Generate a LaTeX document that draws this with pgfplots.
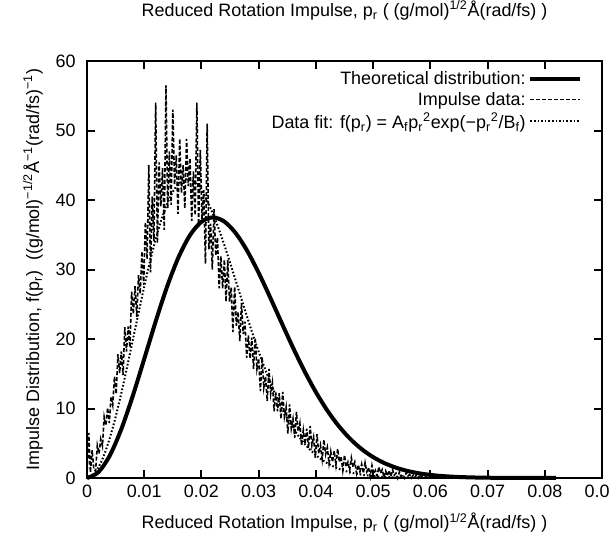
\documentclass[border=0pt]{standalone}
\usepackage{fontspec}
\setmainfont{Liberation Sans}
\usepackage{pgfplots}
\usepackage{pgfplotstable}
\pgfplotsset{compat=1.18}

\pgfplotstableread{
p v
0.0000 0.2
0.0003 6.5
0.0006 0.8
0.0009 4.0
0.0012 1.2
0.0015 1.0
0.0018 4.7
0.0021 3.5
0.0024 5.6
0.0027 4.6
0.0030 8.8
0.0033 7.6
0.0036 10.1
0.0039 7.9
0.0042 11.7
0.0045 10.5
0.0048 14.6
0.0051 12.1
0.0054 17.8
0.0057 15.1
0.0060 18.2
0.0063 14.8
0.0066 21.7
0.0069 18.2
0.0072 21.8
0.0075 18.8
0.0078 26.8
0.0081 23.6
0.0084 27.6
0.0087 23.2
0.0090 29.2
0.0093 26.5
0.0096 32.6
0.0099 27.8
0.0102 36.8
0.0105 31.5
0.0108 45.0
0.0111 29.6
0.0114 40.5
0.0117 34.1
0.0120 54.0
0.0123 33.8
0.0126 45.4
0.0129 39.1
0.0132 44.6
0.0135 35.7
0.0138 56.5
0.0141 38.8
0.0144 47.0
0.0147 39.3
0.0150 53.0
0.0153 42.2
0.0156 46.4
0.0159 38.0
0.0162 48.8
0.0165 41.0
0.0168 45.0
0.0171 38.8
0.0174 48.8
0.0177 42.0
0.0180 46.0
0.0183 37.0
0.0186 44.1
0.0189 37.8
0.0192 54.0
0.0195 36.1
0.0198 47.2
0.0201 37.3
0.0204 41.4
0.0207 30.8
0.0210 51.0
0.0213 32.9
0.0216 36.6
0.0219 30.0
0.0222 38.7
0.0225 32.0
0.0228 34.6
0.0231 27.3
0.0234 31.9
0.0237 27.3
0.0240 31.4
0.0243 25.4
0.0246 31.4
0.0249 25.4
0.0252 27.4
0.0255 21.0
0.0258 27.5
0.0261 21.9
0.0264 23.9
0.0267 19.7
0.0270 25.2
0.0273 20.7
0.0276 22.5
0.0279 17.3
0.0282 20.5
0.0285 17.2
0.0288 20.2
0.0291 15.7
0.0294 20.2
0.0297 15.7
0.0300 17.2
0.0303 12.5
0.0306 17.4
0.0309 13.0
0.0312 14.6
0.0315 11.1
0.0318 15.7
0.0321 12.1
0.0324 13.7
0.0327 9.6
0.0330 12.3
0.0333 9.6
0.0336 12.2
0.0339 8.5
0.0342 12.4
0.0345 8.8
0.0348 10.2
0.0351 6.4
0.0354 10.6
0.0357 7.1
0.0360 8.5
0.0363 5.8
0.0366 9.5
0.0369 6.7
0.0372 7.9
0.0375 4.7
0.0378 6.9
0.0381 4.9
0.0384 7.1
0.0387 4.3
0.0390 7.5
0.0393 4.7
0.0396 5.9
0.0399 2.9
0.0402 6.3
0.0405 3.5
0.0408 4.7
0.0411 2.7
0.0414 5.5
0.0417 3.4
0.0420 4.4
0.0423 2.1
0.0426 3.8
0.0429 2.3
0.0432 3.9
0.0435 1.9
0.0438 4.2
0.0441 2.3
0.0444 3.1
0.0447 1.1
0.0450 3.3
0.0453 1.6
0.0456 2.3
0.0459 1.1
0.0462 2.9
0.0465 1.6
0.0468 2.3
0.0471 0.7
0.0474 1.9
0.0477 0.9
0.0480 2.0
0.0483 0.7
0.0486 2.2
0.0489 0.9
0.0492 1.5
0.0495 0.2
0.0498 1.8
0.0501 0.6
0.0504 1.1
0.0507 0.3
0.0510 1.6
0.0513 0.7
0.0516 1.2
0.0519 0.1
0.0522 1.0
0.0525 0.3
0.0528 1.1
0.0531 0.2
0.0534 1.2
0.0537 0.4
0.0540 0.7
0.0543 0.0
0.0546 0.9
0.0549 0.2
0.0552 0.5
0.0555 0.0
0.0558 0.8
0.0561 0.3
0.0564 0.5
0.0567 0.0
0.0570 0.4
0.0573 0.1
0.0576 0.5
0.0579 0.0
0.0582 0.5
0.0585 0.1
0.0588 0.3
0.0591 0.0
0.0594 0.3
0.0597 0.1
0.0600 0.1
}\impulsedata

\pgfplotstableread{
p v
0.000 0
0.002 0.836
0.004 3.260
0.006 7.039
0.008 11.81
0.010 17.13
0.012 22.52
0.014 27.54
0.016 31.77
0.018 34.94
0.020 36.86
0.022 37.50
0.024 36.90
0.026 35.22
0.028 32.68
0.030 29.52
0.032 26.00
0.034 22.35
0.036 18.76
0.038 15.39
0.040 12.36
0.042 9.705
0.044 7.468
0.046 5.628
0.048 4.156
0.050 3.008
0.052 2.135
0.054 1.486
0.056 1.014
0.058 0.679
0.060 0.446
0.062 0.288
0.064 0.182
0.066 0.113
0.068 0.069
0.070 0.041
0.072 0.024
0.074 0.013
0.076 0.007
0.078 0.004
0.080 0.002
0.082 0.001
}\theory

\pgfplotstableread{
p v
0.000 0
0.001 0.380
0.002 1.507
0.003 3.336
0.004 5.796
0.005 8.794
0.006 12.22
0.007 15.94
0.008 19.82
0.009 23.73
0.010 27.53
0.011 31.11
0.012 34.34
0.013 37.15
0.014 39.44
0.015 41.19
0.016 42.35
0.017 42.93
0.018 42.93
0.019 42.39
0.020 41.35
0.021 39.88
0.022 38.03
0.023 35.89
0.024 33.52
0.025 30.99
0.026 28.38
0.027 25.74
0.028 23.13
0.029 20.60
0.030 18.18
0.032 13.80
0.034 10.12
0.036 7.186
0.038 4.937
0.040 3.288
0.042 2.122
0.044 1.328
0.046 0.806
0.048 0.475
0.050 0.272
0.052 0.151
0.055 0.059
0.060 0.011
}\fitdata

\begin{document}
\begin{tikzpicture}
\begin{axis}[
  scale only axis,
  width=386.25bp, height=312.75bp,
  xmin=0, xmax=0.09, ymin=0, ymax=60,
  clip=false,
  xtick={0,0.01,0.02,0.03,0.04,0.05,0.06,0.07,0.08,0.09},
  xticklabels={0,0.01,0.02,0.03,0.04,0.05,0.06,0.07,0.08,0.09},
  scaled x ticks=false,
  ytick={0,10,20,30,40,50,60},
  tick align=inside,
  major tick length=6bp,
  every tick/.style={black, line width=1.5bp},
  axis line style={line width=2bp},
  /pgf/number format/assume math mode=true,
  tick label style={font=\fontsize{13.5}{16}\selectfont},
  xticklabel style={yshift=-2bp},
  yticklabel style={xshift=-5bp},
  label style={font=\fontsize{13.5}{16}\selectfont},
  xlabel style={at={(axis description cs:0.5,-0.1223)}, anchor=base},
  ylabel style={at={(axis description cs:-0.105,0.5)}, anchor=center},
  xlabel={Reduced Rotation Impulse, p\textsubscript{r} ( (g/mol)\textsuperscript{1/2}Å(rad/fs) )},
  ylabel={Impulse Distribution, f(p\textsubscript{r})\ \ ((g/mol)\textsuperscript{−1/2}Å\textsuperscript{−1}(rad/fs)\textsuperscript{−1})},
  legend style={at={(axis description cs:0.961,0.981)}, anchor=north east, draw=none, fill=none, inner sep=0pt, font=\fontsize{13.5}{16}\selectfont, row sep=0bp},
  legend cell align=right,
  legend plot pos=right,
  legend image code/.code={\draw[#1] (0bp,0bp) -- (37bp,0bp);},
]
\addplot[black, line width=3bp, smooth] table[x=p, y=v] {\theory};
\addlegendentry{Theoretical distribution:}
\addplot[black, line width=1.2bp, dash pattern=on 3bp off 1.5bp] table[x=p, y=v] {\impulsedata};
\addlegendentry{Impulse data:}
\addplot[black, line width=1.5bp, dash pattern=on 1.2bp off 1.5bp, smooth] table[x=p, y=v] {\fitdata};
\addlegendentry{Data fit: f(p\textsubscript{r}) = A\textsubscript{f}p\textsubscript{r}\textsuperscript{2}exp(−p\textsubscript{r}\textsuperscript{2}/B\textsubscript{f})}
\end{axis}
\node[anchor=base, inner sep=0pt, font=\fontsize{13.5}{16}\selectfont] at (193.125bp,346bp) {Reduced Rotation Impulse, p\textsubscript{r} ( (g/mol)\textsuperscript{1/2}Å(rad/fs) )};
\pgfresetboundingbox
\path[use as bounding box] (-65.25bp,-42.75bp) rectangle (392.25bp,358.5bp);
\end{tikzpicture}
\end{document}
